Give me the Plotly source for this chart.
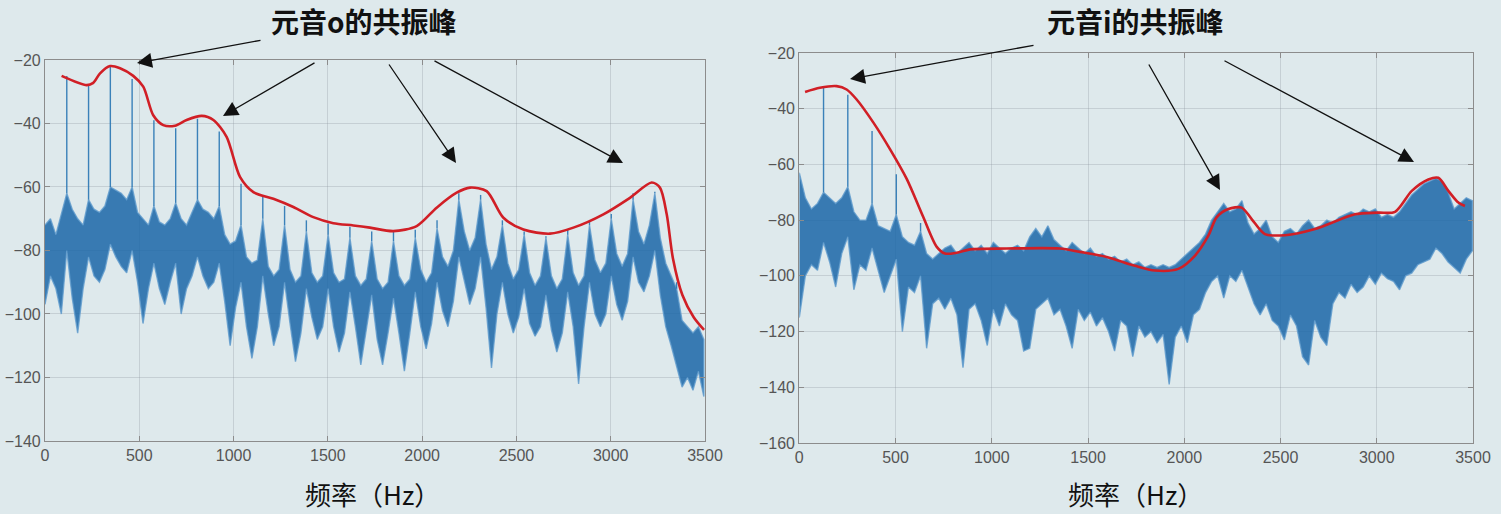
import plotly.graph_objects as go

# ---------------- data: vowel "o" (left) ----------------
O_STEP_HZ = 28.875          # spectrum sample spacing (1/4 of f0 = 115.5 Hz)
o_upper = [-72, -70, -75, -68, -62, -67, -70, -72, -64, -67, -68, -66, -60, -61, -62, -64,
           -60, -68, -70, -72, -66, -71, -72, -70, -65, -70, -72, -68, -64, -67, -68, -70,
           -66, -75, -78, -77, -72, -82, -84, -83, -70, -85, -88, -86, -72, -86, -90, -88,
           -74, -87, -90, -88, -75, -87, -90, -89, -76, -88, -91, -89, -77, -89, -92, -90,
           -77, -88, -91, -89, -76, -86, -90, -87, -73, -82, -85, -80, -64, -74, -80, -76,
           -64, -78, -86, -82, -72, -84, -89, -86, -75, -87, -91, -88, -76, -88, -92, -89,
           -75, -87, -91, -88, -72, -83, -87, -84, -70, -81, -85, -81, -64, -74, -78, -72,
           -62, -76, -84, -88, -92, -102, -104, -106, -104, -108]
o_lower = [-97, -88, -92, -100, -80, -95, -106, -92, -82, -88, -90, -86, -78, -82, -85, -87,
           -80, -90, -103, -92, -84, -92, -97, -90, -84, -100, -92, -88, -82, -88, -92, -90,
           -84, -96, -110, -98, -90, -104, -114, -104, -88, -100, -110, -104, -90, -103, -115, -106,
           -92, -101, -108, -104, -92, -104, -112, -106, -93, -104, -116, -105, -94, -108, -116, -106,
           -95, -106, -118, -106, -93, -104, -111, -103, -90, -99, -104, -96, -82, -90, -97, -92,
           -82, -98, -117, -100, -90, -100, -106, -101, -92, -103, -107, -104, -94, -105, -112, -106,
           -93, -104, -122, -104, -90, -100, -104, -100, -88, -97, -102, -96, -82, -90, -93, -88,
           -80, -94, -104, -110, -116, -123, -120, -124, -118, -126]
o_harm_tip = [-25, -28, -22, -26, -39, -41.5, -38.5, -42.5, -59, -63, -66, -70.5, -71.5, -72.5,
              -74, -74, -73.5, -70.5, -62, -62.5, -70.5, -74, -75.5, -73.5, -71, -68.5, -62,
              -61.5, -90]
o_env_hz = [88, 221, 256, 292, 345, 398, 468, 521, 574, 627, 689, 751, 831, 893, 963, 1034,
            1105, 1211, 1317, 1423, 1529, 1635, 1723, 1847, 1971, 2077, 2183, 2254, 2342,
            2431, 2537, 2678, 2802, 2961, 3102, 3217, 3261, 3297, 3330, 3380, 3440, 3495]
o_env_db = [-25, -27.9, -27.2, -24.2, -21.9, -22.6, -25, -28.4, -37.4, -40.5, -40.7, -38.9,
            -37.6, -38.9, -44.2, -56.8, -61.6, -63.7, -66.3, -69.5, -71.4, -72.1, -72.8,
            -73.9, -72.3, -66.5, -61.8, -60.2, -61.3, -69.7, -73.4, -74.7, -72.8, -68.6,
            -63.4, -58.6, -60.2, -68.6, -82.5, -94, -101, -105]

# ---------------- data: vowel "i" (right) ----------------
I_STEP_HZ = 31.5            # spectrum sample spacing (1/4 of f0 = 126 Hz)
i_upper = [-63, -72, -76, -74, -70, -72, -74, -72, -68, -77, -80, -80, -74, -82, -83, -84,
           -78, -86, -88, -89, -84, -92, -94, -92, -90, -89, -92, -90, -88, -91, -89, -92,
           -88, -90, -92, -90, -89, -91, -86, -83, -86, -82, -87, -89, -91, -88, -90, -92,
           -90, -93, -92, -94, -93, -95, -94, -96, -95, -97, -96, -97, -96, -97, -96, -94,
           -92, -90, -88, -85, -80, -77, -74, -77, -76, -73, -81, -85, -83, -80, -86, -88,
           -84, -83, -85, -82, -80, -83, -82, -80, -81, -79, -78, -77, -78, -76, -77, -76,
           -79, -78, -79, -77, -74, -71, -69, -67, -66, -65, -66, -70, -76, -74, -72, -73]
i_lower = [-115, -100, -96, -98, -88, -95, -104, -92, -86, -105, -96, -98, -90, -98, -106, -100,
           -94, -120, -104, -106, -100, -126, -110, -108, -112, -108, -114, -133, -112, -110, -116, -125,
           -112, -118, -110, -114, -116, -127, -126, -112, -110, -108, -114, -112, -118, -126, -112, -116,
           -113, -118, -115, -120, -127, -116, -118, -129, -118, -122, -120, -124, -121, -139, -122, -118,
           -124, -114, -112, -106, -102, -100, -108, -100, -102, -98, -104, -110, -114, -110, -116, -118,
           -123, -114, -118, -129, -132, -116, -122, -125, -110, -106, -108, -103, -106, -104, -100, -103,
           -99, -101, -102, -105, -100, -99, -96, -95, -94, -90, -92, -95, -97, -99, -94, -91]
i_harm_tip = [-32.5, -35, -48, -63.5, -81]
i_env_hz = [30, 107, 194, 246, 298, 385, 471, 558, 644, 714, 757, 818, 887, 1077, 1354, 1458,
            1597, 1744, 1848, 1969, 2056, 2125, 2168, 2229, 2298, 2350, 2419, 2523, 2679,
            2887, 3008, 3095, 3182, 3268, 3320, 3372, 3424, 3458]
i_env_db = [-34, -32.5, -31.9, -33.1, -36.7, -45, -54.5, -65.2, -78.9, -89.6, -92, -91.7,
            -90.5, -90.2, -90.2, -91.4, -93.2, -96.4, -98.1, -97.5, -92.7, -85.6, -79, -76,
            -75.5, -79.6, -85, -85.4, -83.2, -77.9, -77.3, -77, -69.5, -65.4, -64.8, -69.5,
            -73.7, -74.9]

x_ticks = [0, 500, 1000, 1500, 2000, 2500, 3000, 3500]
o_y_ticks = [-140, -120, -100, -80, -60, -40, -20]
i_y_ticks = [-160, -140, -120, -100, -80, -60, -40, -20]
title_o = "元音o的共振峰"
title_i = "元音i的共振峰"
x_label = "频率（Hz）"

# ---------------- styles ----------------
BG = "#dee9ec"
BAND_FILL = "rgba(28,104,168,0.86)"
BAND_EDGE = "rgba(95,155,205,0.80)"
SPIKE = "rgba(40,118,180,0.9)"
RED = "#d11f26"
GRID = "rgba(140,150,155,0.30)"
AXIS = "#8c8c8c"
TICKFONT = dict(family="Liberation Sans, Arial, sans-serif", size=16, color="#555555")
CJK = "Noto Sans CJK SC"

fig = go.Figure()


def add_spectrum(step, upper, lower, tips, env_hz, env_db, xa, ya):
    freqs = [i * step for i in range(len(upper))]
    fig.add_trace(go.Scatter(
        x=freqs + freqs[::-1], y=upper + lower[::-1], fill="toself",
        fillcolor=BAND_FILL, mode="lines", line=dict(color=BAND_EDGE, width=1.4),
        xaxis=xa, yaxis=ya, hoverinfo="skip", showlegend=False))
    sx, sy = [], []
    for k, tip in enumerate(tips, start=1):
        idx = 4 * k
        sx += [freqs[idx], freqs[idx], None]
        sy += [upper[idx], tip, None]
    fig.add_trace(go.Scatter(x=sx, y=sy, mode="lines", line=dict(color=SPIKE, width=1.4),
                             xaxis=xa, yaxis=ya, hoverinfo="skip", showlegend=False))
    fig.add_trace(go.Scatter(x=env_hz, y=env_db, mode="lines",
                             line=dict(color=RED, width=2.6, shape="spline", smoothing=0.8),
                             xaxis=xa, yaxis=ya, showlegend=False))


add_spectrum(O_STEP_HZ, o_upper, o_lower, o_harm_tip, o_env_hz, o_env_db, "x", "y")
add_spectrum(I_STEP_HZ, i_upper, i_lower, i_harm_tip, i_env_hz, i_env_db, "x2", "y2")

axis_common = dict(showgrid=True, gridcolor=GRID, gridwidth=1, showline=True,
                   linecolor=AXIS, linewidth=1.2, mirror="ticks", ticks="inside",
                   ticklen=5, tickcolor=AXIS, tickfont=TICKFONT, zeroline=False,
                   automargin=False)

fig.update_layout(
    width=1501, height=514, margin=dict(l=0, r=0, t=0, b=0, pad=0, autoexpand=False),
    paper_bgcolor=BG, plot_bgcolor=BG, showlegend=False,
    xaxis=dict(domain=[0.02998, 0.46969], range=[0, 3500], tickvals=x_ticks,
               anchor="y", **axis_common),
    yaxis=dict(domain=[0.14202, 0.88327], range=[-140, -20], tickvals=o_y_ticks,
               anchor="x", **axis_common),
    xaxis2=dict(domain=[0.53251, 0.98135], range=[0, 3500], tickvals=x_ticks,
                anchor="y2", **axis_common),
    yaxis2=dict(domain=[0.13813, 0.89689], range=[-160, -20], tickvals=i_y_ticks,
                anchor="x2", **axis_common),
)

W, H = 1501, 514
ann = []
for txt, cx, cy in [(title_o, 364, 21), (title_i, 1135, 21)]:
    ann.append(dict(text="<b>" + txt + "</b>", x=cx / W, y=1 - cy / H, xref="paper", yref="paper",
                    showarrow=False, xanchor="center", yanchor="middle",
                    font=dict(family=CJK, size=28, color="#111111")))
for cx, cy in [(372, 493), (1135, 493)]:
    ann.append(dict(text=x_label, x=cx / W, y=1 - cy / H, xref="paper", yref="paper",
                    showarrow=False, xanchor="center", yanchor="middle",
                    font=dict(family=CJK, size=26, color="#111111")))

arrows = [((137, 63), (262, 40)), ((223, 116), (316, 62)), ((456, 163), (388, 63)),
          ((623, 163), (433, 60)), ((850, 79), (1035, 45)), ((1220, 190), (1148, 63)),
          ((1414, 162), (1223, 60))]
for (hx, hy), (tx, ty) in arrows:
    ann.append(dict(text="", x=hx / W, y=1 - hy / H, xref="paper", yref="paper",
                    ax=tx - hx, ay=ty - hy, showarrow=True, arrowhead=2,
                    arrowsize=2.3, arrowwidth=1.3, arrowcolor="#111111", standoff=0))
fig.update_layout(annotations=ann)

fig.write_html(
    "out.html",
    config={"displayModeBar": False},
    post_script="document.body.style.margin='0';document.body.style.padding='0';"
                "document.body.style.background='" + BG + "';"
                "document.documentElement.style.overflow='hidden';",
)
